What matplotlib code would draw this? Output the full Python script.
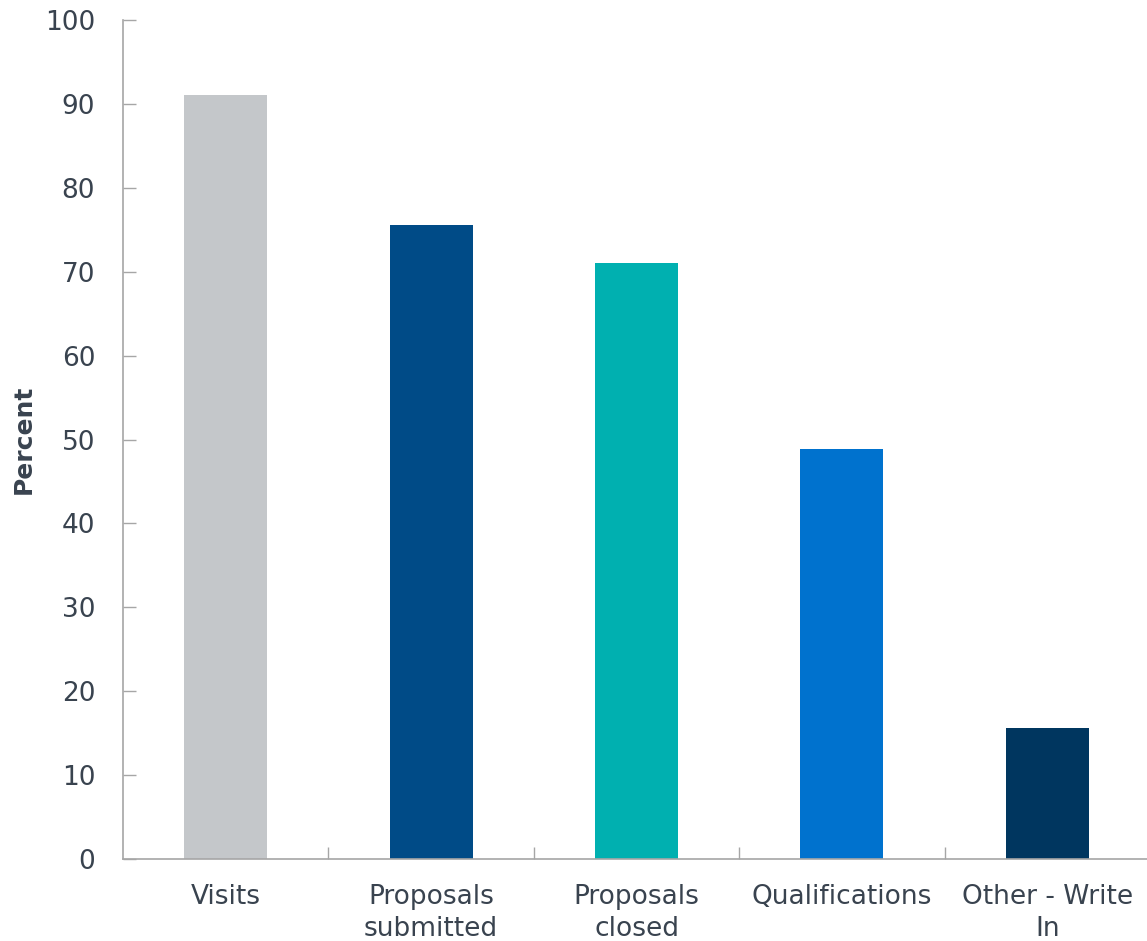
import matplotlib
matplotlib.use("Agg")
from matplotlib import pyplot as plt
import numpy as np

# data
CATEGORIES = ['Visits', 'Proposals\nsubmitted', 'Proposals\nclosed',
              'Qualifications', 'Other - Write\nIn']
PERCENT = [91.1, 75.6, 71.0, 48.9, 15.6]
COLORS = ['#c4c7ca', '#004b87', '#00b0b0', '#0072ce', '#00365f']

TEXT_COLOR = '#39434f'
AXIS_COLOR = '#a6a6a6'

plt.rcParams['font.family'] = ['DejaVu Sans']

fig = plt.figure(figsize=(11.47, 9.41), dpi=100)
ax = fig.add_axes([123/1147, 1 - 859/941, 1027/1147, (859 - 20)/941])

x = np.arange(len(CATEGORIES))
ax.bar(x, PERCENT, width=0.405, color=COLORS, zorder=2)

ax.set_xlim(-0.5, len(CATEGORIES) - 0.5)
ax.set_ylim(0, 100)
ax.set_yticks(np.arange(0, 101, 10))

# category labels without tick marks, boundary ticks as minor ticks
ax.set_xticks(x)
ax.set_xticklabels(CATEGORIES, fontsize=19, color=TEXT_COLOR, linespacing=1.3)
ax.set_xticks(np.arange(0.5, len(CATEGORIES) - 0.5, 1), minor=True)
ax.tick_params(axis='x', which='major', length=0, pad=18)
ax.tick_params(axis='x', which='minor', direction='in', length=9,
               color=AXIS_COLOR, width=1)
ax.tick_params(axis='y', direction='in', length=9, color=AXIS_COLOR,
               width=1, labelsize=19, labelcolor=TEXT_COLOR, pad=20)

for side in ['top', 'right']:
    ax.spines[side].set_visible(False)
for side in ['left', 'bottom']:
    ax.spines[side].set_color(AXIS_COLOR)
    ax.spines[side].set_linewidth(1.2)

ax.set_ylabel('Percent', fontsize=18, fontweight='bold', color=TEXT_COLOR)
ax.yaxis.set_label_coords(-87/1027, 0.5)

fig.savefig('out.png', dpi=100)
